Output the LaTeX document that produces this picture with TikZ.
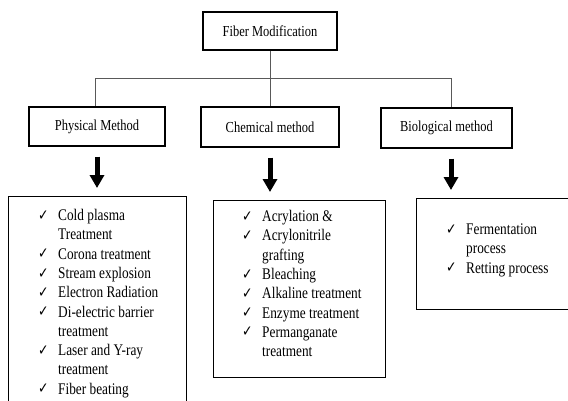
\documentclass[tikz,border=0pt]{standalone}
\usepackage{fontspec}
\setmainfont{Liberation Serif}
\newfontfamily\tickfont{DejaVu Sans}
\usepackage{tikz}
\usetikzlibrary{positioning,arrows.meta}

\newcommand{\tk}{\makebox[20pt][l]{\raisebox{0.3pt}{\tickfont\fontsize{12.5}{12}\selectfont ✓}}}
\newcommand{\tall}[1]{\scalebox{1}[1.22]{#1}}

\begin{document}
\begin{tikzpicture}[
    x=1pt, y=-1pt,
    head/.style={draw, line width=1.3pt, align=center, inner sep=0pt, font=\fontsize{12.5}{15}\selectfont},
    listbox/.style={draw, line width=1.3pt, anchor=north west, inner sep=0pt},
    listtext/.style={anchor=north west, inner sep=0pt, font=\fontsize{13.3}{15.8}\selectfont},
    link/.style={draw=black!65, line width=0.8pt},
    fatarrow/.style={line width=5pt, -{Triangle[width=14pt,length=13pt]}, shorten <=10pt, shorten >=8pt}
]
\useasboundingbox (0,0) rectangle (568,400);
\clip (0,0) rectangle (568,400);

\node[head, minimum width=134pt, minimum height=38pt] (top) at (270,31) {\tall{Fiber Modification}};
\node[head, minimum width=136pt, minimum height=39pt] (phys) at (97,126.5) {\tall{Physical Method}};
\node[head, minimum width=138pt, minimum height=40pt] (chem) at (270,127) {\tall{Chemical method}};
\node[head, minimum width=131pt, minimum height=40pt] (bio) at (446.5,128) {\tall{Biological method}};

\coordinate (busL) at (95,78);
\coordinate (busR) at (451,78);

\node[listbox, minimum width=178pt, minimum height=220pt] (physbox) at (8,196) {};
\node[listbox, minimum width=172pt, minimum height=177pt] (chembox) at (213,200) {};
\node[listbox, minimum width=152pt, minimum height=111pt] (biobox) at (416,198) {};

\node[listtext] (physlist) at (38,207) {\tall{%
\begin{tabular}[t]{@{}l@{}l@{}}
\tk & Cold plasma\\
    & Treatment\\
\tk & Corona treatment\\
\tk & Stream explosion\\
\tk & Electron Radiation\\
\tk & Di-electric barrier\\
    & treatment\\
\tk & Laser and Y-ray\\
    & treatment\\
\tk & Fiber beating
\end{tabular}}};
\node[listtext] (chemlist) at (242,208) {\tall{%
\begin{tabular}[t]{@{}l@{}l@{}}
\tk & Acrylation \&\\
\tk & Acrylonitrile\\
    & grafting\\
\tk & Bleaching\\
\tk & Alkaline treatment\\
\tk & Enzyme treatment\\
\tk & Permanganate\\
    & treatment
\end{tabular}}};
\node[listtext] (biolist) at (446,221) {\tall{%
\begin{tabular}[t]{@{}l@{}l@{}}
\tk & Fermentation\\
    & process\\
\tk & Retting process
\end{tabular}}};

% tree links
\draw[link] (top.south) -- (chem.north);
\draw[link] (busL) -- (busR);
\draw[link] (busL) -- (busL |- phys.north);
\draw[link] (busR) -- (busR |- bio.north);

% arrows down to the lists
\draw[fatarrow] (phys.south) -- (phys.south |- physbox.north);
\draw[fatarrow] (chem.south) -- (chem.south |- chembox.north);
\draw[fatarrow] (busR |- bio.south) -- (busR |- biobox.north);
\end{tikzpicture}
\end{document}
